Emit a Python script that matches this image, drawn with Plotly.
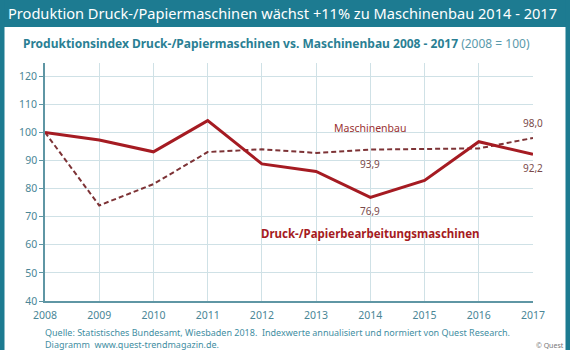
import plotly.graph_objects as go

years = [2008, 2009, 2010, 2011, 2012, 2013, 2014, 2015, 2016, 2017]
druck = [100, 97.3, 93.1, 104.2, 88.8, 86.1, 76.9, 82.9, 96.7, 92.2]
maschinenbau = [100, 74.0, 81.6, 93.0, 94.0, 92.7, 93.9, 94.2, 94.3, 98.0]
y_ticks = [40, 50, 60, 70, 80, 90, 100, 110, 120]

TEAL = "#1d7b91"
FONT = "Noto Sans"

# pixel layout
W, H = 570, 350
L, R, T, B = 45, 533, 63, 300.7

def px(x):
    return (x - L) / (R - L)

def py(y):
    return (B - y) / (B - T)

fig = go.Figure()
fig.add_trace(go.Scatter(x=years, y=maschinenbau, mode="lines",
                         line=dict(color="#7d3336", width=2, dash="5px,3px"),
                         hoverinfo="skip"))
fig.add_trace(go.Scatter(x=years, y=druck, mode="lines",
                         line=dict(color="#a51b22", width=3),
                         hoverinfo="skip"))

shapes = [
    dict(type="rect", xref="paper", yref="paper", x0=px(0), x1=px(W), y0=py(27), y1=py(0),
         fillcolor=TEAL, line_width=0, layer="above"),
    dict(type="rect", xref="paper", yref="paper", x0=px(0), x1=px(4.5), y0=py(H), y1=py(0),
         fillcolor=TEAL, line_width=0, layer="above"),
    dict(type="rect", xref="paper", yref="paper", x0=px(565.5), x1=px(W), y0=py(H), y1=py(0),
         fillcolor=TEAL, line_width=0, layer="above"),
]

ann = []
ann.append(dict(text="Produktion Druck-/Papiermaschinen wächst +11% zu Maschinenbau 2014 - 2017",
                x=px(6), y=py(13.5), xref="paper", yref="paper", xanchor="left", yanchor="middle",
                showarrow=False, font=dict(family=FONT, size=14.6, color="white")))
ann.append(dict(text="<b>Produktionsindex Druck-/Papiermaschinen vs. Maschinenbau 2008 - 2017</b>"
                     "<span style='color:#5a9aab'> (2008 = 100)</span>",
                x=px(21), y=py(43.5), xref="paper", yref="paper", xanchor="left", yanchor="middle",
                showarrow=False, font=dict(family=FONT, size=12, color="#2a7f94")))
ann.append(dict(text="Maschinenbau", x=2014, y=101.7, xref="x", yref="y", showarrow=False,
                xanchor="center", yanchor="middle",
                font=dict(family=FONT, size=10.5, color="#9a3232")))
ann.append(dict(text="<b>Druck-/Papierbearbeitungsmaschinen</b>", x=2014, y=64.0, xref="x", yref="y",
                showarrow=False, xanchor="center", yanchor="middle",
                font=dict(family=FONT, size=11.5, color="#a51b22")))
ann.append(dict(text="98,0", x=years[-1], y=maschinenbau[-1], xref="x", yref="y", showarrow=False,
                yshift=15, font=dict(family=FONT, size=10, color="#7a4a4a")))
ann.append(dict(text="92,2", x=years[-1], y=druck[-1], xref="x", yref="y", showarrow=False,
                yshift=-14, font=dict(family=FONT, size=10, color="#7a4a4a")))
ann.append(dict(text="93,9", x=years[6], y=maschinenbau[6], xref="x", yref="y", showarrow=False,
                yshift=-14, font=dict(family=FONT, size=10, color="#7a4a4a")))
ann.append(dict(text="76,9", x=years[6], y=druck[6], xref="x", yref="y", showarrow=False,
                yshift=-14, font=dict(family=FONT, size=10, color="#7a4a4a")))
ann.append(dict(text="Quelle: Statistisches Bundesamt, Wiesbaden 2018.  Indexwerte annualisiert und normiert von Quest Research.<br>"
                     "Diagramm  www.quest-trendmagazin.de.",
                x=px(43), y=py(324), xref="paper", yref="paper", xanchor="left", yanchor="top",
                align="left", showarrow=False,
                font=dict(family=FONT, size=9, color="#3f8ea2")))
ann.append(dict(text="© Quest", x=px(534), y=py(339), xref="paper", yref="paper", xanchor="left",
                yanchor="top", showarrow=False, font=dict(family=FONT, size=7, color="#777777")))

fig.update_layout(
    width=W, height=H,
    margin=dict(l=L, r=W - R, t=T, b=H - B, pad=0),
    paper_bgcolor="white", plot_bgcolor="white",
    showlegend=False,
    shapes=shapes, annotations=ann,
    xaxis=dict(range=[2008, 2017], tickmode="array", tickvals=years,
               ticktext=[str(y) for y in years], showgrid=True, gridcolor="#cfe1e6", gridwidth=1,
               showline=True, linecolor="#5f96a4", linewidth=1.5, ticks="outside", ticklen=4,
               tickcolor="rgba(0,0,0,0)", zeroline=False,
               tickfont=dict(family=FONT, size=10.5, color="#4a8696")),
    yaxis=dict(range=[40, 124.7], tickmode="array", tickvals=y_ticks,
               showgrid=True, gridcolor="#cfe1e6", gridwidth=1,
               showline=True, linecolor="#5f96a4", linewidth=1.5, ticks="outside", ticklen=4,
               tickcolor="#5f96a4", zeroline=False,
               tickfont=dict(family=FONT, size=10.5, color="#4a8696")),
)

fig.write_html("out.html")
